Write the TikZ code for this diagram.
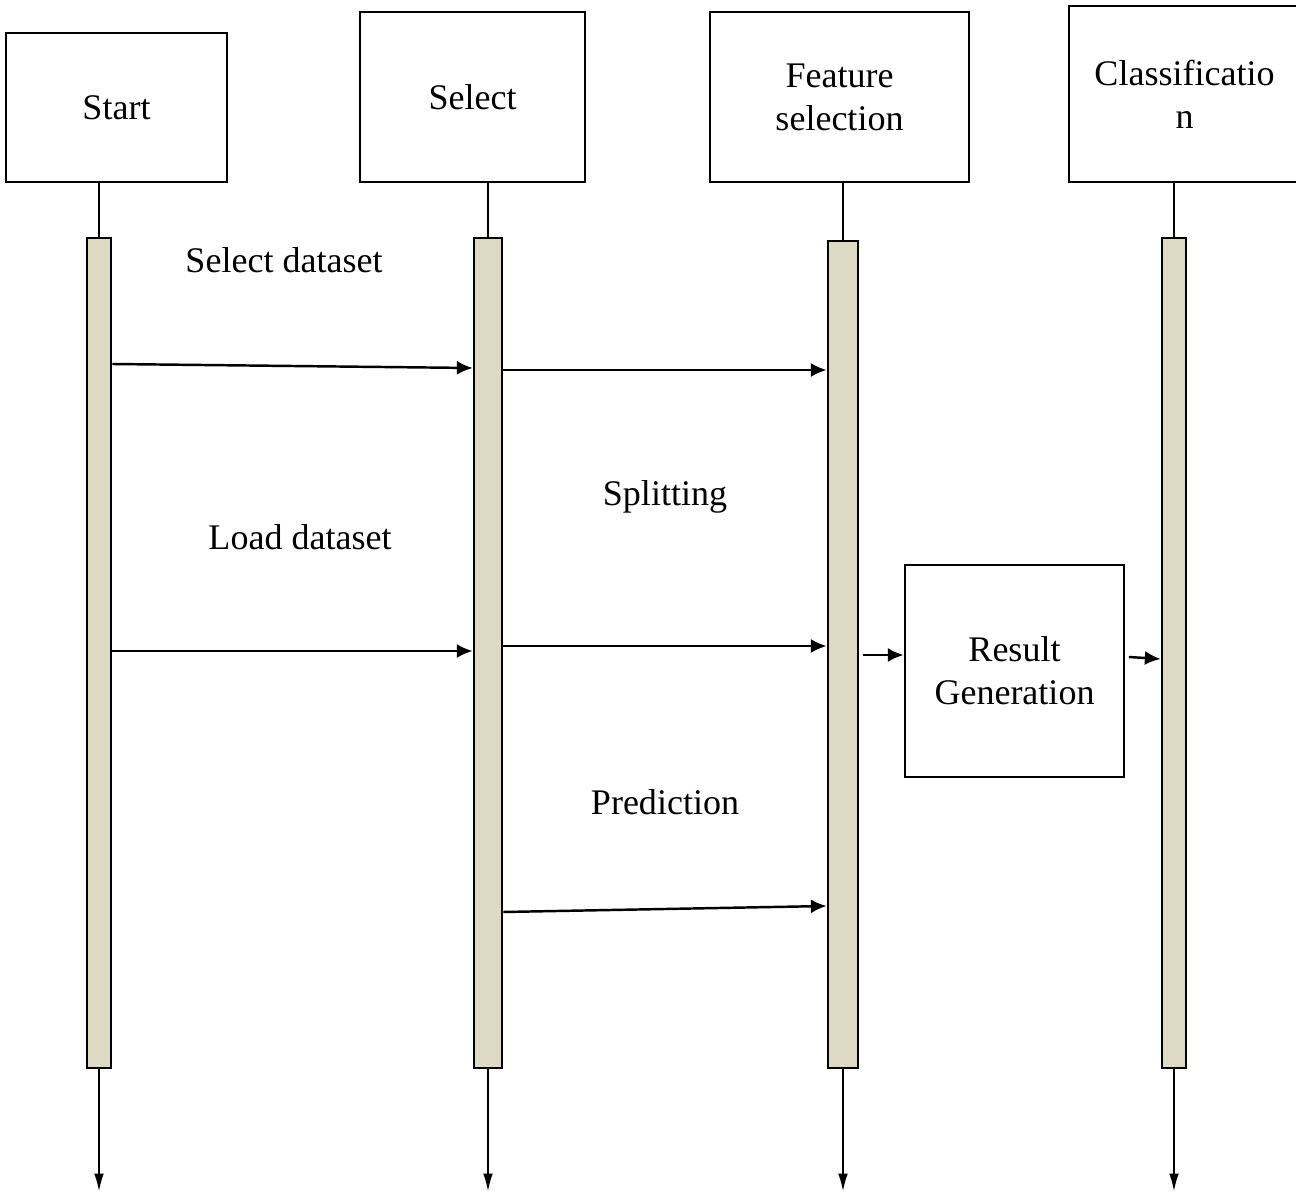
\documentclass[tikz,border=0pt]{standalone}
\usepackage{fontspec}
\setmainfont{Liberation Serif}
\usepackage{tikz}
\usetikzlibrary{arrows.meta}
\definecolor{barfill}{RGB}{221,217,195}
\tikzset{
	obj_box/.style = {draw=black, line width=1.6pt, align=center, inner sep=0pt,
		font=\fontsize{20.5}{24.4}\selectfont},
	act_bar/.style = {draw=black, fill=barfill, line width=1.5pt, inner sep=0pt,
		minimum height=16.6cm},
	msg_lbl/.style = {align=center, inner sep=0pt,
		font=\fontsize{20.5}{24.4}\selectfont},
	msg/.style = {line width=1.4pt, -{Latex[length=9pt,width=8pt]}},
	life/.style = {line width=0.7pt},
	life_end/.style = {line width=1pt, -{Latex[length=10pt,width=5.5pt]}}
}
\begin{document}
\begin{tikzpicture}[x=0.02cm, y=-0.02cm]
\useasboundingbox (0,0) rectangle (1296,1192);
% objects
\node [obj_box, minimum width=4.42cm, minimum height=2.98cm] (start) at (116.5,107.5) {Start};
\node [obj_box, minimum width=4.5cm, minimum height=3.4cm] (select) at (472.5,97) {Select};
\node [obj_box, minimum width=5.18cm, minimum height=3.4cm] (feat) at (839.5,97) {Feature\\selection};
\node [obj_box, minimum width=4.62cm, minimum height=3.52cm] (cls) at (1184.5,94) {Classificatio\\n};
% activation bars
\node [act_bar, minimum width=0.48cm] (start_bar) at (99,653) {};
\node [act_bar, minimum width=0.56cm] (select_bar) at (488,653) {};
\node [act_bar, minimum width=0.6cm, minimum height=16.54cm] (feat_bar) at (843,654.5) {};
\node [act_bar, minimum width=0.48cm] (cls_bar) at (1174,653) {};
\node [obj_box, minimum width=4.38cm, minimum height=4.24cm] (result) at (1014.5,671) {Result\\Generation};
% lifelines
\draw [life] (start_bar.north) -- (start_bar.north |- start.south);
\draw [life] (select_bar.north) -- (select_bar.north |- select.south);
\draw [life] (feat_bar.north) -- (feat_bar.north |- feat.south);
\draw [life] (cls_bar.north) -- (cls_bar.north |- cls.south);
\draw [life_end] (start_bar.south) -- ++(0,122);
\draw [life_end] (select_bar.south) -- ++(0,122);
\draw [life_end] (feat_bar.south) -- ++(0,122);
\draw [life_end] (cls_bar.south) -- ++(0,122);
% labels
\node [msg_lbl] (sel_ds) at (284,260) {Select dataset};
\node [msg_lbl] (load_ds) at (300,537) {Load dataset};
\node [msg_lbl] (split) at (665,497) {Splitting};
\node [msg_lbl] (pred) at (665,802) {Prediction};
% messages
\coordinate (m1a) at (0,364);
\coordinate (m1b) at (0,368);
\coordinate (m2) at (0,370);
\coordinate (m3) at (0,651);
\coordinate (m4) at (0,646);
\coordinate (m5) at (0,655);
\coordinate (m6a) at (0,657);
\coordinate (m6b) at (0,659);
\coordinate (m7a) at (0,912);
\coordinate (m7b) at (0,906);
\draw [msg] (start_bar.east |- m1a) -- (select_bar.west |- m1b);
\draw [msg] (select_bar.east |- m2) -- (feat_bar.west |- m2);
\draw [msg] (start_bar.east |- m3) -- (select_bar.west |- m3);
\draw [msg] (select_bar.east |- m4) -- (feat_bar.west |- m4);
\draw [msg] ([xshift=2pt]feat_bar.east |- m5) -- (result.west |- m5);
\draw [msg] ([xshift=2pt]result.east |- m6a) -- (cls_bar.west |- m6b);
\draw [msg] (select_bar.east |- m7a) -- (feat_bar.west |- m7b);
\end{tikzpicture}
\end{document}
